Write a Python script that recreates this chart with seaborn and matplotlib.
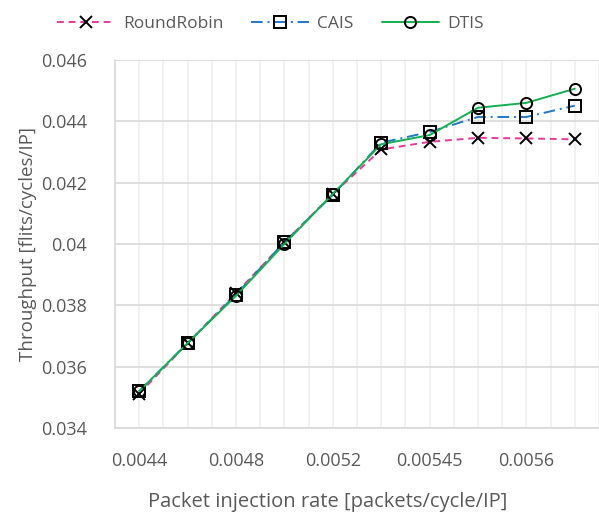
import pandas as pd
import matplotlib
matplotlib.use("Agg")
import matplotlib.pyplot as plt
import seaborn as sns

# ==========================================
# Data
# ==========================================

rates = ["0.0044", "0.0046", "0.0048", "0.005", "0.0052",
         "0.0054", "0.00545", "0.0055", "0.0056", "0.0057"]

round_robin = [0.03512, 0.03676, 0.03840, 0.04005, 0.04163,
               0.04308, 0.04333, 0.04346, 0.04344, 0.04341]
cais = [0.03520, 0.03677, 0.03835, 0.04006, 0.04160,
        0.04330, 0.04365, 0.04414, 0.04414, 0.04451]
dtis = [0.03520, 0.03677, 0.03831, 0.04000, 0.04163,
        0.04325, 0.04355, 0.04444, 0.04460, 0.04506]

series_names = ["RoundRobin", "CAIS", "DTIS"]
series_values = [round_robin, cais, dtis]

y_ticks = [0.034, 0.036, 0.038, 0.04, 0.042, 0.044, 0.046]
y_tick_labels = ["0.034", "0.036", "0.038", "0.04", "0.042", "0.044", "0.046"]

# ==========================================
# Styles
# ==========================================

sns.set_style("white")
plt.rcParams["font.family"] = ["Open Sans", "DejaVu Sans"]

text_color = "#595959"
styles = {
    "RoundRobin": dict(color="#E8399B", marker="x", dashes=(3.5, 2.5)),
    "CAIS": dict(color="#1F78C8", marker="s", dashes=(6, 2.5, 1, 2.5)),
    "DTIS": dict(color="#12B050", marker="o", dashes=""),
}

fig = plt.figure(figsize=(5.99, 5.12), dpi=100)
ax = fig.add_axes([0.192, 0.164, 0.808, 0.719])

for name, values in zip(series_names, series_values):
    df = pd.DataFrame({"rate": rates, "throughput": values})
    st = styles[name]
    sns.lineplot(
        data=df, x="rate", y="throughput", ax=ax, sort=False,
        color=st["color"], linewidth=1.4, label=name,
        marker=st["marker"], markersize=8,
        markerfacecolor="none", markeredgecolor="black",
        markeredgewidth=1.4,
    )
    line = ax.get_lines()[-1]
    if st["dashes"]:
        line.set_dashes(st["dashes"])

# ==========================================
# Axes
# ==========================================

ax.set_xlim(-0.5, len(rates) - 0.5)
ax.set_ylim(0.034, 0.046)

ax.set_xticks(range(len(rates)))
ax.set_xticklabels([r if i % 2 == 0 else "" for i, r in enumerate(rates)])
ax.set_xticks([i - 0.5 for i in range(len(rates) + 1)], minor=True)

ax.set_yticks(y_ticks)
ax.set_yticklabels(y_tick_labels)

ax.tick_params(axis="both", which="both", length=0, labelsize=13,
               labelcolor=text_color)
ax.tick_params(axis="y", pad=20)
ax.tick_params(axis="x", pad=17)

ax.grid(axis="x", which="both", color="#EFEFEF", linewidth=1.2)
ax.grid(axis="y", which="major", color="#D9D9D9", linewidth=1.2)
ax.set_axisbelow(True)

for side in ["top", "right"]:
    ax.spines[side].set_visible(False)
for side in ["left", "bottom"]:
    ax.spines[side].set_color("#D9D9D9")
    ax.spines[side].set_linewidth(1.2)

ax.set_xlabel("Packet injection rate [packets/cycle/IP]", fontsize=14.5,
              color=text_color)
ax.xaxis.set_label_coords(0.44, -0.175)
ax.set_ylabel("Throughput [flits/cycles/IP]", fontsize=13.5,
              color=text_color, labelpad=3)

# ==========================================
# Legend
# ==========================================

handles, labels = ax.get_legend_handles_labels()
ax.get_legend().remove()
fig.legend(
    handles, labels, loc="center", bbox_to_anchor=(0.452, 0.953),
    ncol=3, frameon=False, fontsize=12.5, handlelength=3.3,
    columnspacing=1.6, handletextpad=0.5, labelcolor=text_color,
)

fig.savefig("out.png", dpi=100)
